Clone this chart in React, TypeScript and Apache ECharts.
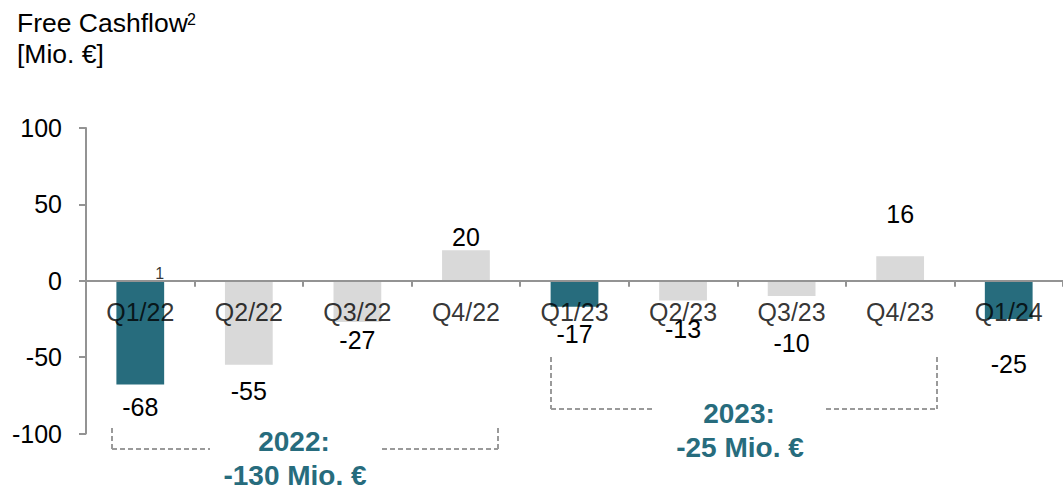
import React, { useEffect, useRef } from "react";
import * as echarts from "echarts";

const categories = ["Q1/22", "Q2/22", "Q3/22", "Q4/22", "Q1/23", "Q2/23", "Q3/23", "Q4/23", "Q1/24"];
const cashflow = [-68, -55, -27, 20, -17, -13, -10, 16, -25];
const yMin = -100;
const yMax = 100;
const yStep = 50;
const footnoteMarker = "1";
const titleLine1 = "Free Cashflow";
const titleSup = "2";
const titleLine2 = "[Mio. €]";
const year2022Label = "2022:";
const year2022Total = "-130 Mio. €";
const year2023Label = "2023:";
const year2023Total = "-25 Mio. €";

// layout only: distance from bar end to value label centre (px)
const labelGaps = [22, 26, 18, 13, 27, 28, 47, 42, 45];

const TEAL = "#276c7d";
const GREY_BAR = "#d9d9d9";
const AXIS = "#939393";
const FONT = "Liberation Sans, Arial, sans-serif";

export default function App() {
  const ref = useRef<HTMLDivElement>(null);
  useEffect(() => {
    document.body.style.margin = "0";
    if (!ref.current) return;
    const chart = echarts.init(ref.current, null, { renderer: "svg" });
    const dash = { stroke: "#9a9a9a", lineWidth: 2, lineDash: [5, 3] };
    const seg = (x1: number, y1: number, x2: number, y2: number) => ({
      type: "line",
      shape: { x1, y1, x2, y2 },
      style: dash,
      silent: true,
    });
    const txt = (text: string, x: number, y: number, size: number, bold: boolean, color: string, align = "center") => ({
      type: "text",
      x,
      y,
      style: {
        text,
        fontSize: size,
        fontWeight: bold ? "bold" : "normal",
        fontFamily: FONT,
        fill: color,
        align,
        verticalAlign: "middle",
      },
      silent: true,
    });
    chart.setOption({
      animation: false,
      textStyle: { fontFamily: FONT },
      grid: { left: 86, width: 982, top: 128, bottom: 53.5, containLabel: false },
      xAxis: {
        type: "category",
        data: categories,
        z: 10,
        axisLine: { onZero: true, lineStyle: { color: AXIS, width: 2 } },
        axisTick: { show: true, length: 6, lineStyle: { color: AXIS, width: 2 } },
        axisLabel: { show: false },
      },
      yAxis: {
        type: "value",
        min: yMin,
        max: yMax,
        interval: yStep,
        splitLine: { show: false },
        axisLine: { show: true, lineStyle: { color: AXIS, width: 2 } },
        axisTick: { show: true, length: 7, lineStyle: { color: AXIS, width: 2 } },
        axisLabel: { color: "#000", fontSize: 25, margin: 24, fontFamily: FONT },
      },
      series: [
        {
          type: "bar",
          barWidth: "44%",
          data: cashflow.map((v, i) => ({
            value: v,
            itemStyle: { color: categories[i].startsWith("Q1") ? TEAL : GREY_BAR },
            label: {
              show: true,
              position: "outside",
              distance: labelGaps[i] - 12.5,
              fontSize: 25,
              lineHeight: 25,
              color: "#000",
              fontFamily: FONT,
            },
          })),
        },
        {
          // category labels sitting just under the zero line, over the bars
          type: "scatter",
          symbolSize: 0,
          z: 11,
          silent: true,
          data: categories.map((c) => [c, 0]),
          label: {
            show: true,
            position: "inside",
            offset: [0, 31],
            formatter: (p: any) => p.name || categories[p.dataIndex],
            fontSize: 25,
            lineHeight: 25,
            color: "#000",
            fontFamily: FONT,
          },
        },
        {
          type: "scatter",
          symbolSize: 0,
          z: 11,
          silent: true,
          data: [[categories[0], 0]],
          label: {
            show: true,
            position: "inside",
            offset: [19.5, -7],
            formatter: () => footnoteMarker,
            fontSize: 16,
            color: "#000",
            fontFamily: FONT,
          },
        },
      ],
      graphic: [
        txt(titleLine1, 17, 23, 26.5, false, "#000", "left"),
        txt(titleSup, 187, 19, 16, false, "#000", "left"),
        txt(titleLine2, 17, 54, 26.5, false, "#000", "left"),
        // 2022 bracket
        seg(112, 428, 112, 449),
        seg(112, 449, 210, 449),
        seg(382, 449, 498, 449),
        seg(498, 428, 498, 449),
        txt(year2022Label, 294, 441, 28, true, TEAL),
        txt(year2022Total, 295, 475, 28, true, TEAL),
        // 2023 bracket
        seg(551, 357, 551, 409),
        seg(551, 409, 653, 409),
        seg(826, 409, 937, 409),
        seg(937, 357, 937, 409),
        txt(year2023Label, 739, 413, 28, true, TEAL),
        txt(year2023Total, 740, 447, 28, true, TEAL),
      ],
    });
    return () => chart.dispose();
  }, []);
  return <div ref={ref} style={{ width: 1063, height: 487 }} />;
}
